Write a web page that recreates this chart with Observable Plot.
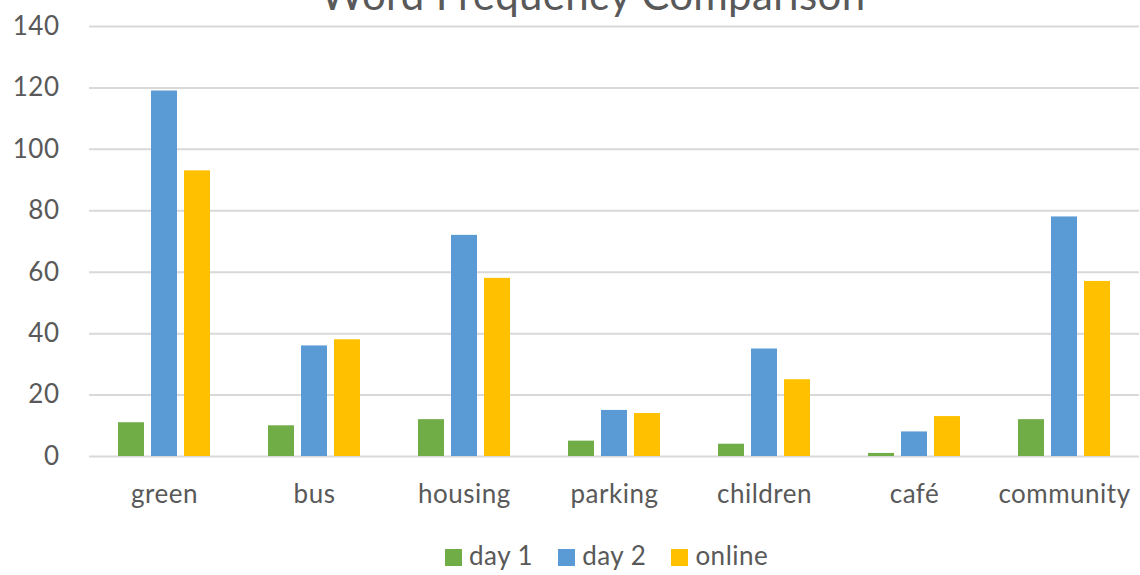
<!DOCTYPE html>
<html>
<head>
<meta charset="utf-8">
<script src="https://cdn.jsdelivr.net/npm/d3@7"></script>
<script src="https://cdn.jsdelivr.net/npm/@observablehq/plot@0.6"></script>
<style>
  body { margin: 0; background: #fff; font-family: Lato, sans-serif; color: #595959; }
  #wrap { position: relative; width: 1140px; height: 575px; overflow: hidden; }
  #title { position: absolute; left: 0; top: -27px; width: 1186px; text-align: center;
           font-size: 42px; line-height: 42px; letter-spacing: 0.3px; color: #595959; white-space: nowrap; z-index: 2; }
  #chart { position: absolute; left: 0; top: 0; }
  #legend { position: absolute; left: 445px; top: 542px; display: flex; align-items: center;
            font-size: 26px; line-height: 26px; letter-spacing: 0.5px; color: #595959; }
  .item { display: flex; align-items: center; margin-right: 25px; }
  .sw { width: 17px; height: 17px; margin-right: 7px; position: relative; top: 2px; }
  #chart svg text { letter-spacing: 0.5px; }
</style>
</head>
<body>
<div id="wrap">
  <div id="title">Word Frequency Comparison</div>
  <div id="chart"></div>
  <div id="legend"></div>
</div>
<script>
const categories = ["green", "bus", "housing", "parking", "children", "café", "community"];
const seriesNames = ["day 1", "day 2", "online"];
const seriesColors = ["#70AD47", "#5B9BD5", "#FFC000"];
const day1 = [11, 10, 12, 5, 4, 1, 12];
const day2 = [119, 36, 72, 15, 35, 8, 78];
const online = [93, 38, 58, 14, 25, 13, 57];
const yTicks = [0, 20, 40, 60, 80, 100, 120, 140];

const seriesValues = [day1, day2, online];
const table = [];
categories.forEach((c, i) => {
  seriesNames.forEach((s, j) => {
    table.push({category: c, series: s, value: seriesValues[j][i]});
  });
});

const chart = Plot.plot({
  width: 1140,
  height: 520,
  marginTop: 26,
  marginBottom: 64,
  marginLeft: 88,
  marginRight: 0,
  style: {fontFamily: "Lato, sans-serif", fontSize: "26px", color: "#595959", background: "transparent"},
  fx: {domain: categories, padding: 0, label: null, tickSize: 0, tickPadding: 28},
  x: {domain: seriesNames, axis: null, paddingInner: 0.215, paddingOuter: 0.825},
  y: {domain: [0, 140], ticks: yTicks, label: null, tickSize: 0, tickPadding: 30, tickFormat: d => String(d)},
  color: {domain: seriesNames, range: seriesColors},
  marks: [
    Plot.ruleY(yTicks, {stroke: "#d9d9d9", strokeWidth: 2}),
    Plot.barY(table, {fx: "category", x: "series", y: "value", fill: "series"})
  ]
});
document.getElementById("chart").appendChild(chart);

const legend = document.getElementById("legend");
seriesNames.forEach((s, i) => {
  const item = document.createElement("div");
  item.className = "item";
  const sw = document.createElement("span");
  sw.className = "sw";
  sw.style.background = seriesColors[i];
  const tx = document.createElement("span");
  tx.textContent = s;
  item.appendChild(sw);
  item.appendChild(tx);
  legend.appendChild(item);
});
</script>
</body>
</html>
